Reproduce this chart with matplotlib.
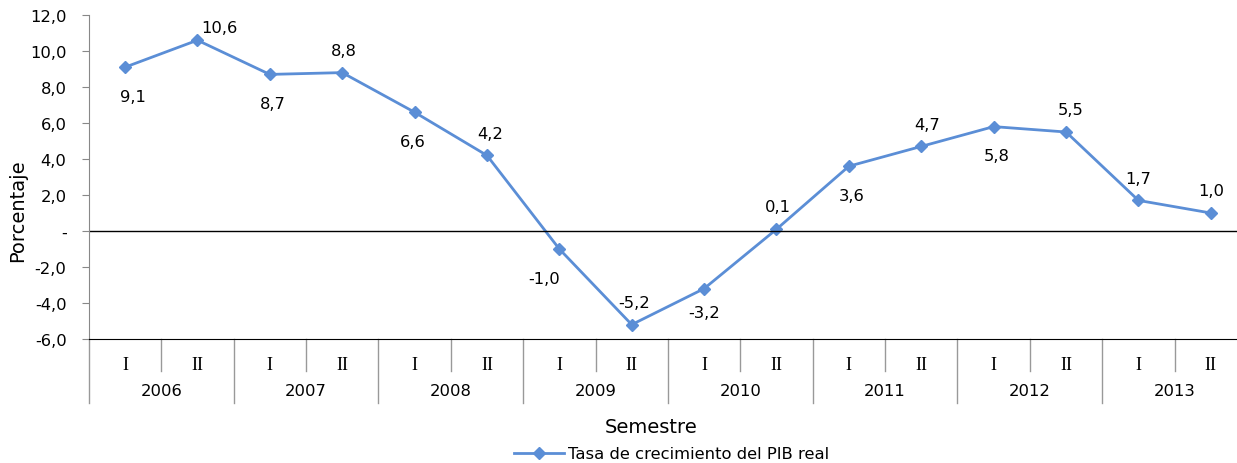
import matplotlib
matplotlib.use("Agg")
import matplotlib.pyplot as plt

semestres = ["I", "II"] * 8
anios = ["2006", "2007", "2008", "2009", "2010", "2011", "2012", "2013"]
tasa = [9.1, 10.6, 8.7, 8.8, 6.6, 4.2, -1.0, -5.2, -3.2, 0.1, 3.6, 4.7, 5.8, 5.5, 1.7, 1.0]
# label offsets in points (dx, dy)
offsets = [(6, -21), (16, 9), (2, -21), (1, 16), (-1, -21), (2, 16), (-11, -21), (2, 16),
           (0, -17), (1, 16), (2, -21), (4, 16), (2, -21), (3, 16), (0, 16), (0, 16)]

plt.rcParams["font.family"] = "DejaVu Sans"
blue = "#5B8ED6"
fs = 11.8

fig = plt.figure(figsize=(12.37, 4.64), dpi=100)
ax = fig.add_axes([0.0718, 0.2672, 0.9363, 0.6983])

x = list(range(len(tasa)))
ax.plot(x, tasa, color=blue, lw=2, marker="D", ms=6.5, label="Tasa de crecimiento del PIB real")

for i, v in enumerate(tasa):
    ax.annotate(f"{v:.1f}".replace(".", ","), (i, v), xytext=offsets[i],
                textcoords="offset points", ha="center", va="center", fontsize=fs)

ax.set_xlim(-0.5, len(tasa) - 0.5)
ax.set_ylim(-6, 12)
yt = list(range(-6, 13, 2))
ax.set_yticks(yt, [("-" if t == 0 else f"{t:.1f}".replace(".", ",")) for t in yt])
ax.tick_params(axis="y", length=5, color="#888888", labelsize=fs, pad=11)
ax.axhline(0, color="black", lw=1)

for s in ["top", "right"]:
    ax.spines[s].set_visible(False)
ax.spines["left"].set_color("#888888")
ax.spines["bottom"].set_color("black")

# category table below axis
ax.set_xticks(x, semestres, family="Liberation Serif", fontsize=13)
ax.tick_params(axis="x", length=0, pad=12)
tr = ax.get_xaxis_transform()
for i in range(len(tasa) + 1):
    bottom = -0.198 if i % 2 == 0 else -0.099
    ax.plot([i - 0.5, i - 0.5], [0, bottom], color="#999999", lw=1, transform=tr, clip_on=False)
for j, a in enumerate(anios):
    ax.text(2 * j + 0.5, -0.16, a, transform=tr, ha="center", va="center", fontsize=fs)

fig.text(651 / 1237, 1 - 428 / 464, "Semestre", ha="center", va="center", fontsize=14)
fig.text(18 / 1237, 1 - 211 / 464, "Porcentaje", ha="center", va="center", rotation=90, fontsize=14)
fig.legend(loc="center", bbox_to_anchor=(672 / 1237, 1 - 455 / 464), frameon=False,
           fontsize=fs, handlelength=3, handletextpad=0.3)

fig.savefig("out.png", dpi=100)
